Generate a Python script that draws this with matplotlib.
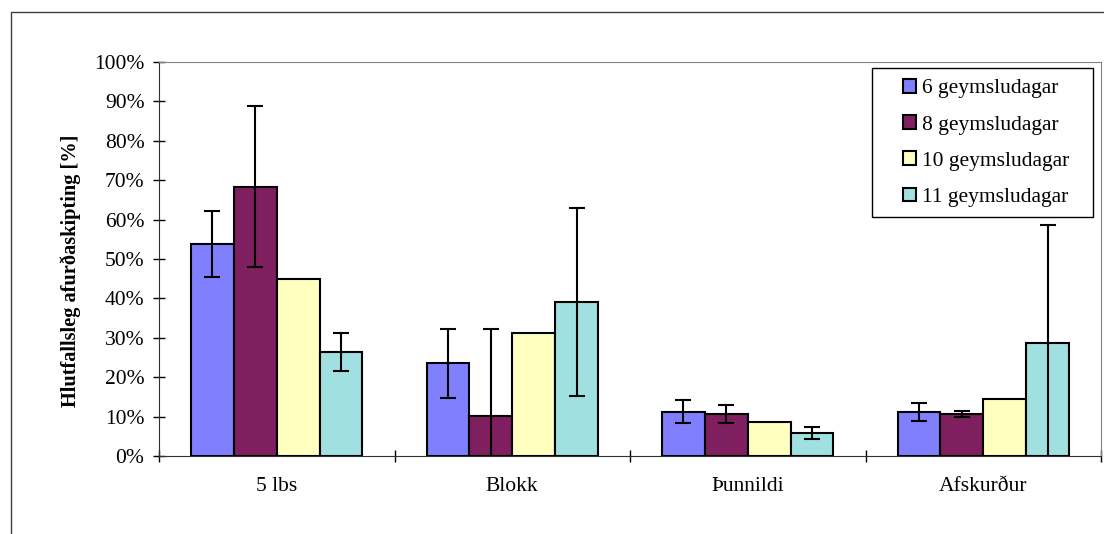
import numpy as np
import matplotlib
matplotlib.use('Agg')
import matplotlib.pyplot as plt
from matplotlib.patches import Rectangle
from matplotlib.ticker import PercentFormatter

plt.rcParams['font.family'] = ['Liberation Serif', 'DejaVu Serif']

categories = ['5 lbs', 'Blokk', 'Þunnildi', 'Afskurður']
series = ['6 geymsludagar', '8 geymsludagar', '10 geymsludagar', '11 geymsludagar']

# mean values [%]
d6 = [53.8, 23.5, 11.2, 11.2]
d8 = [68.4, 10.2, 10.7, 10.7]
d10 = [44.9, 31.3, 8.7, 14.5]
d11 = [26.4, 39.1, 5.9, 28.8]
values = [d6, d8, d10, d11]

# error bars (+/-), None where no bar drawn
e6 = [8.3, 8.8, 2.95, 2.3]
e8 = [20.5, 22.1, 2.2, 0.8]
e10 = [None, None, None, None]
e11 = [4.9, 23.75, 1.5, 29.9]
errors = [e6, e8, e10, e11]

colors = ['#8080FF', '#7F1F5F', '#FFFFC0', '#A0E0E0']

fig = plt.figure(figsize=(11.04, 5.34), dpi=100)
ax = fig.add_axes([159/1104, 78/534, 942/1104, 394/534])

# outer frame of the original chart
fig.patches.append(Rectangle((11/1104, -0.1), 1.2, 1.1 - 12/534,
                             transform=fig.transFigure, fill=False,
                             edgecolor='#404040', linewidth=1.0))

x = np.arange(len(categories))
w = 0.182
for i, (vals, errs) in enumerate(zip(values, errors)):
    pos = x + (i - 1.5) * w
    ax.bar(pos, vals, w, color=colors[i], edgecolor='black', linewidth=1.5,
           label=series[i], zorder=2)
    for p, v, e in zip(pos, vals, errs):
        if e is None:
            continue
        ax.errorbar(p, v, yerr=e, color='black', elinewidth=1.5, capsize=6,
                    capthick=1.5, zorder=3)

ax.set_xlim(-0.5, 3.5)
ax.set_ylim(0, 100)
ax.set_yticks(np.arange(0, 101, 10))
ax.yaxis.set_major_formatter(PercentFormatter(decimals=0))
ax.set_xticks(x)
ax.set_xticklabels(categories)
ax.set_xticks(np.arange(-0.5, 4, 1), minor=True)
ax.tick_params(axis='x', which='major', length=0, pad=15, labelsize=15.5)
ax.tick_params(axis='x', which='minor', direction='inout', length=9, width=1)
ax.tick_params(axis='y', direction='inout', length=9, width=1, labelsize=15.5, pad=6)

ax.set_ylabel('Hlutfallsleg afurðaskipting [%]', fontsize=14.7, fontweight='bold')
ax.yaxis.set_label_coords(-0.083, 0.47)

for s in ['top', 'right']:
    ax.spines[s].set_color('#808080')
for s in ['left', 'bottom']:
    ax.spines[s].set_color('#303030')

# legend box drawn separately so its padding can match the original
ax.add_patch(Rectangle((872/1104, 1 - 217/534), 221/1104, 149/534,
                       transform=fig.transFigure, fill=True, clip_on=False,
                       facecolor='white', edgecolor='black',
                       linewidth=1.0, zorder=4))
leg = ax.legend(loc='upper left', bbox_to_anchor=(903/1104, 1 - 79/534),
                bbox_transform=fig.transFigure, borderaxespad=0,
                prop={'size': 15.5}, frameon=False, borderpad=0,
                handlelength=0.6, handleheight=0.6, handletextpad=0.3,
                labelspacing=0.78)
leg.set_zorder(5)

fig.savefig('out.png', dpi=100)
